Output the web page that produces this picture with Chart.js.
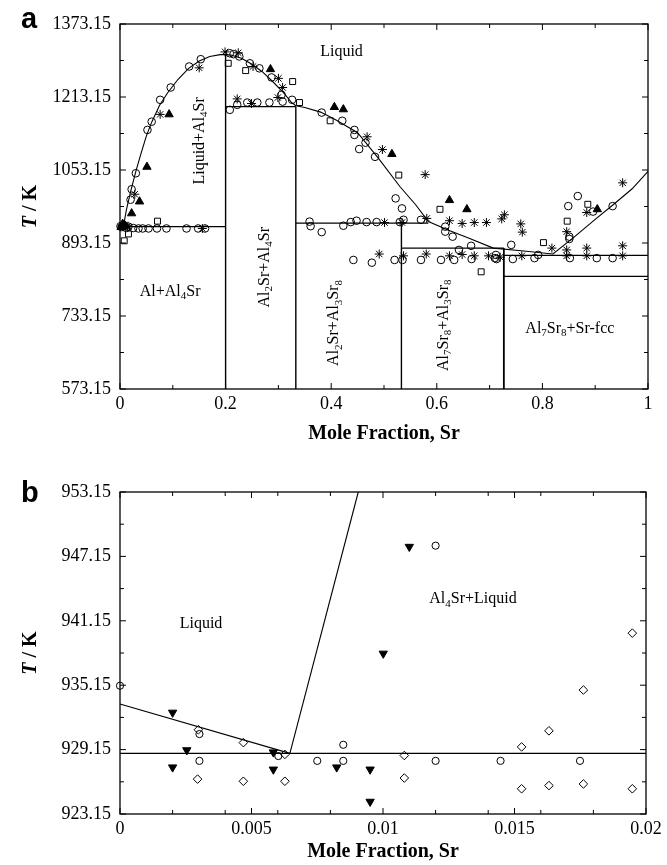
<!DOCTYPE html>
<html><head><meta charset="utf-8">
<script src="https://cdn.jsdelivr.net/npm/chart.js@4.4.1/dist/chart.umd.min.js"></script>
<style>
html,body{margin:0;padding:0;background:#fff;width:667px;height:865px;overflow:hidden;}
canvas{position:absolute;left:0;}
#ca{top:0;}
#cb{top:450px;}
</style></head><body>
<canvas id="ca" width="667" height="450"></canvas>
<canvas id="cb" width="667" height="415"></canvas>
<script>
// ---------- Panel a data ----------
const xTicksA = [0, 0.2, 0.4, 0.6, 0.8, 1];
const xTickLabelsA = ["0", "0.2", "0.4", "0.6", "0.8", "1"];
const xMinorA = [0.1, 0.3, 0.5, 0.7, 0.9];
const yTicksA = [573.15, 733.15, 893.15, 1053.15, 1213.15, 1373.15];
const yTickLabelsA = ["573.15", "733.15", "893.15", "1053.15", "1213.15", "1373.15"];

const liquidusA = [[0,933.5],[0.0065,929],[0.012,965],[0.02,1005],[0.03,1050],[0.04,1090],[0.05,1128],[0.06,1158],[0.075,1195],[0.09,1222],[0.11,1252],[0.13,1276],[0.15,1292],[0.17,1302],[0.19,1306],[0.2,1306],[0.21,1305],[0.23,1298],[0.25,1285],[0.27,1268],[0.29,1246],[0.31,1222],[0.325,1201],[0.333,1194],[0.35,1190],[0.38,1180],[0.41,1162],[0.45,1135],[0.49,1078],[0.53,1017],[0.56,977],[0.584,940],[0.62,922],[0.66,904],[0.707,882],[0.76,876],[0.82,869],[0.86,906],[0.9,945],[0.934,977],[0.97,1012],[1.0,1050]];
const eutecticA = [[0,929],[0.2,929]];
const vAl4Sr = [[0.2,573.15],[0.2,1306]];
const periAl2Sr = [[0.2,1192],[0.333,1192]];
const vAl2Sr = [[0.333,573.15],[0.333,1192]];
const periAl3Sr8 = [[0.333,936.5],[0.584,936.5]];
const vAl3Sr8 = [[0.533,573.15],[0.533,936.5]];
const periAl7Sr8 = [[0.533,882],[0.727,882]];
const vAl7Sr8 = [[0.727,573.15],[0.727,882]];
const eutSr = [[0.727,866],[1,866]];
const transSr = [[0.727,820],[1,820]];

const circlesA = [[0.022,1011],[0.020,988],[0.030,1046],[0.052,1141],[0.060,1159],[0.076,1207],[0.096,1234],[0.131,1280],[0.153,1296],
[0.208,1309],[0.215,1307],[0.226,1302],[0.246,1287],[0.264,1276],[0.287,1256],[0.306,1218],
[0.208,1185],[0.222,1196],[0.241,1201],[0.260,1201],[0.283,1201],[0.308,1203],[0.326,1207],
[0.382,1179],[0.421,1161],[0.444,1141],[0.444,1130],[0.465,1113],[0.453,1099],[0.483,1082],
[0.522,991],[0.534,969],[0.537,944],[0.570,944],
[0.359,940],[0.361,930],[0.382,917],[0.423,931],[0.437,939],[0.448,942],[0.467,939],[0.486,939],[0.530,939],
[0.616,929],[0.616,918],[0.630,907],[0.642,878],[0.665,887],[0.712,867],[0.741,889],
[0.442,856],[0.477,850],[0.520,856],[0.535,856],[0.570,856],[0.608,856],[0.633,856],[0.666,858],[0.710,860],[0.713,858],[0.744,858],[0.785,860],[0.792,867],[0.852,860],[0.903,860],[0.933,860],
[0.849,974],[0.867,996],[0.896,962],[0.933,974],[0.851,907],[0.851,902],
[0.035,925],[0.043,925],[0.054,925],[0.070,925],[0.088,925],[0.126,925],[0.148,925],[0.161,925],
[0.003,928],[0.008,931],[0.012,926],[0.016,929],[0.001,930],[0.025,926]];
const asterisksA = [[0.028,1000],[0.076,1175],[0.150,1277],[0.199,1312],[0.224,1310],[0.252,1280],[0.300,1254],[0.308,1234],[0.222,1209],[0.249,1199],[0.299,1212],
[0.468,1126],[0.497,1098],[0.578,1043],
[0.501,938],[0.534,938],[0.581,947],[0.624,942],[0.648,936],[0.671,938],[0.694,938],[0.723,946],[0.728,955],[0.759,935],[0.762,917],
[0.846,918],[0.818,882],[0.846,878],[0.846,865],[0.884,882],[0.884,865],[0.884,960],[0.952,887],[0.952,865],[0.952,1025],
[0.491,869],[0.537,865],[0.580,869],[0.624,865],[0.648,868],[0.671,865],[0.698,865],[0.720,862],[0.761,865],
[0.156,925],[0.010,928],[0.005,932],[0.015,930]];
const squaresA = [[0.205,1287],[0.238,1271],[0.327,1247],[0.340,1201],[0.398,1161],[0.528,1042],[0.606,967],[0.684,830],[0.802,894],[0.847,941],[0.886,978],[0.071,941],[0.016,913],[0.008,898]];
const trianglesA = [[0.051,1060],[0.093,1175],[0.285,1274],[0.406,1191],[0.423,1186],[0.515,1088],[0.624,987],[0.657,967],[0.904,967],[0.037,984],[0.022,958],[0.005,935],[0.010,931],[0.002,928]];

// ---------- Panel b data ----------
const xTicksB = [0, 0.005, 0.01, 0.015, 0.02];
const xTickLabelsB = ["0", "0.005", "0.01", "0.015", "0.02"];
const xMinorB = [0.002, 0.004, 0.006, 0.008, 0.012, 0.014, 0.016, 0.018];
const yTicksB = [923.15, 929.15, 935.15, 941.15, 947.15, 953.15];
const yTickLabelsB = ["923.15", "929.15", "935.15", "941.15", "947.15", "953.15"];

const liqLeftB = [[0,933.4],[0.00646,928.8]];
const liqRightB = [[0.00646,928.8],[0.00906,953.15]];
const eutecticB = [[0,928.8],[0.02,928.8]];
const circlesB = [[0,935.1],[0.00302,930.6],[0.00302,928.1],[0.00602,928.55],[0.0075,928.1],[0.00849,929.6],[0.00849,928.1],[0.0120,928.1],[0.01447,928.1],[0.01749,928.1],[0.0120,948.15]];
const trianglesB = [[0.0020,932.6],[0.00254,929.1],[0.0020,927.5],[0.00583,928.9],[0.00583,927.3],[0.00824,927.5],[0.00951,927.3],[0.00951,924.3],[0.01001,938.1],[0.0110,948.05]];
const diamondsB = [[0.00298,931.0],[0.00295,926.4],[0.00469,929.8],[0.00469,926.2],[0.00627,928.7],[0.00627,926.2],[0.01081,928.6],[0.01081,926.5],[0.01527,929.4],[0.01527,925.5],[0.01631,930.9],[0.01631,925.8],[0.01762,934.7],[0.01762,925.95],[0.01948,925.5],[0.01948,940.0]];

// ---------- labels ----------
const labelsA = [
  {text:"Liquid", x:0.4195, y:1316, rot:false},
  {text:"Liquid+Al_4Sr", x:0.148, y:1117, rot:true},
  {text:"Al+Al_4Sr", x:0.095, y:790, rot:false},
  {text:"Al_2Sr+Al_4Sr", x:0.271, y:840, rot:true},
  {text:"Al_2Sr+Al_3Sr_8", x:0.403, y:718, rot:true},
  {text:"Al_7Sr_8+Al_3Sr_8", x:0.610, y:713, rot:true},
  {text:"Al_7Sr_8+Sr-fcc", x:0.852, y:709, rot:false}
];
const labelsB = [
  {text:"Liquid", x:0.00308, y:941.0, rot:false},
  {text:"Al_4Sr+Liquid", x:0.01342, y:943.3, rot:false}
];

const SERIF = "'Liberation Serif','Times New Roman',serif";
const xy = a => a.map(p => ({x:p[0], y:p[1]}));

function lineDs(d, w){
  return {data: xy(d), showLine:true, borderColor:'#000', borderWidth:w||1.2, pointRadius:0, fill:false, tension:0, clip:false};
}
function ptDs(d, style, r, filled, rot){
  return {data: xy(d), showLine:false, pointStyle:style, pointRadius:r, pointRotation:rot||0,
    borderColor:'#000', borderWidth:1, backgroundColor: filled ? '#000' : 'rgba(0,0,0,0)', clip:false};
}

function drawRich(ctx, text, size, cx, cy, rot){
  const parts = [];
  text.replace(/_(\d+)|([^_]+)/g, (m, sub, norm) => { parts.push(sub ? {t:sub, s:true} : {t:norm, s:false}); return m; });
  const fN = size + "px " + SERIF, fS = Math.round(size*0.68) + "px " + SERIF;
  let w = 0;
  parts.forEach(p => { ctx.font = p.s ? fS : fN; p.w = ctx.measureText(p.t).width; w += p.w; });
  ctx.save();
  ctx.translate(cx, cy);
  if (rot) ctx.rotate(-Math.PI/2);
  ctx.fillStyle = '#000';
  ctx.textBaseline = 'alphabetic';
  ctx.textAlign = 'left';
  let x = -w/2;
  const base = size*0.35;
  parts.forEach(p => { ctx.font = p.s ? fS : fN; ctx.fillText(p.t, x, base + (p.s ? size*0.22 : 0)); x += p.w; });
  ctx.restore();
}

function mids(v){ const r=[]; for(let i=0;i<v.length-1;i++) r.push((v[i]+v[i+1])/2); return r; }

function makeDeco(opts){
  return {
    id:'deco',
    afterDraw(chart){
      const {ctx, chartArea:a, scales:{x, y}} = chart;
      ctx.save();
      ctx.strokeStyle = '#000'; ctx.lineWidth = 1.3;
      ctx.strokeRect(a.left, a.top, a.right-a.left, a.bottom-a.top);
      ctx.lineWidth = 1;
      const MAJ = 6, MIN = 4;
      ctx.beginPath();
      const xMaj = x.ticks.map(t => t.value);
      const yMaj = y.ticks.map(t => t.value);
      const xMin = opts.xMinor;
      const yMin = mids(yMaj);
      const hx = (v, L) => { const p = x.getPixelForValue(v); ctx.moveTo(p, a.bottom); ctx.lineTo(p, a.bottom-L); ctx.moveTo(p, a.top); ctx.lineTo(p, a.top+L); };
      const hy = (v, L) => { const p = y.getPixelForValue(v); ctx.moveTo(a.left, p); ctx.lineTo(a.left+L, p); ctx.moveTo(a.right, p); ctx.lineTo(a.right-L, p); };
      xMaj.forEach(v => hx(v, MAJ)); xMin.forEach(v => hx(v, MIN));
      yMaj.forEach(v => hy(v, MAJ)); yMin.forEach(v => hy(v, MIN));
      ctx.stroke();
      // region labels
      opts.labels.forEach(l => drawRich(ctx, l.text, 16, x.getPixelForValue(l.x), y.getPixelForValue(l.y), l.rot));
      // axis titles
      ctx.fillStyle = '#000';
      ctx.font = "bold 20px " + SERIF;
      ctx.textAlign = 'center'; ctx.textBaseline = 'middle';
      ctx.fillText("Mole Fraction, Sr", (a.left+a.right)/2, a.bottom + opts.xTitleOff);
      // y title: T italic bold + " / K"
      ctx.save();
      ctx.translate(opts.yTitleX, (a.top+a.bottom)/2);
      ctx.rotate(-Math.PI/2);
      const f1 = "italic bold 20px " + SERIF, f2 = "bold 20px " + SERIF;
      ctx.font = f1; const w1 = ctx.measureText("T").width;
      ctx.font = f2; const w2 = ctx.measureText(" / K").width;
      ctx.textAlign = 'left'; ctx.textBaseline = 'middle';
      ctx.font = f1; ctx.fillText("T", -(w1+w2)/2, 0);
      ctx.font = f2; ctx.fillText(" / K", -(w1+w2)/2 + w1, 0);
      ctx.restore();
      // panel letter
      ctx.font = "bold 29px 'Liberation Sans',Arial,sans-serif";
      ctx.textAlign = 'left'; ctx.textBaseline = 'alphabetic';
      ctx.fillText(opts.letter, 21, opts.letterY);
      ctx.restore();
    }
  };
}

function scales(xmin, xmax, xT, xL, ymin, ymax, yT, yL, xH){
  const font = {family: SERIF, size: 18};
  return {
    x: {type:'linear', min:xmin, max:xmax,
        afterBuildTicks: s => { s.ticks = xT.map(v => ({value:v})); },
        ticks:{callback:(v,i)=>xL[i], font, color:'#000', padding:4, maxRotation:0, autoSkip:false},
        grid:{display:false, drawTicks:false}, border:{display:false},
        afterFit: s => { s.height = xH; }},
    y: {type:'linear', min:ymin, max:ymax,
        afterBuildTicks: s => { s.ticks = yT.map(v => ({value:v})); },
        ticks:{callback:(v,i)=>yL[i], font, color:'#000', padding:9, autoSkip:false},
        grid:{display:false, drawTicks:false}, border:{display:false},
        afterFit: s => { s.width = 120; }}
  };
}

const common = {responsive:false, animation:false, events:[],
  plugins:{legend:{display:false}, tooltip:{enabled:false}}};

new Chart(document.getElementById('ca'), {
  type:'scatter',
  data:{datasets:[
    ptDs(circlesA, 'circle', 3.8, false),
    ptDs(asterisksA, 'star', 4.5, false),
    ptDs(squaresA, 'rect', 4.2, false),
    ptDs(trianglesA, 'triangle', 4.8, true),
    lineDs(liquidusA, 1.1),
    lineDs(eutecticA, 1.3), lineDs(vAl4Sr, 1.4), lineDs(periAl2Sr, 1.3), lineDs(vAl2Sr, 1.4),
    lineDs(periAl3Sr8, 1.3), lineDs(vAl3Sr8, 1.4), lineDs(periAl7Sr8, 1.3), lineDs(vAl7Sr8, 1.8),
    lineDs(eutSr, 1.3), lineDs(transSr, 1.3)
  ]},
  options:Object.assign({}, common, {
    layout:{padding:{top:24, right:19, left:0, bottom:0}},
    scales: scales(0, 1, xTicksA, xTickLabelsA, 573.15, 1373.15, yTicksA, yTickLabelsA, 61)
  }),
  plugins:[makeDeco({xMinor:xMinorA, labels:labelsA, xTitleOff:45, yTitleX:31, letter:'a', letterY:28})]
});

new Chart(document.getElementById('cb'), {
  type:'scatter',
  data:{datasets:[
    ptDs(circlesB, 'circle', 3.6, false),
    ptDs(trianglesB, 'triangle', 4.8, true, 180),
    ptDs(diamondsB, 'rectRot', 4.3, false),
    lineDs(liqLeftB, 1.1), lineDs(liqRightB, 1.1), lineDs(eutecticB, 1.3)
  ]},
  options:Object.assign({}, common, {
    layout:{padding:{top:42, right:21, left:0, bottom:0}},
    scales: scales(0, 0.02, xTicksB, xTickLabelsB, 923.15, 953.15, yTicksB, yTickLabelsB, 51)
  }),
  plugins:[makeDeco({xMinor:xMinorB, labels:labelsB, xTitleOff:38, yTitleX:31, letter:'b', letterY:52})]
});
</script>
</body></html>
